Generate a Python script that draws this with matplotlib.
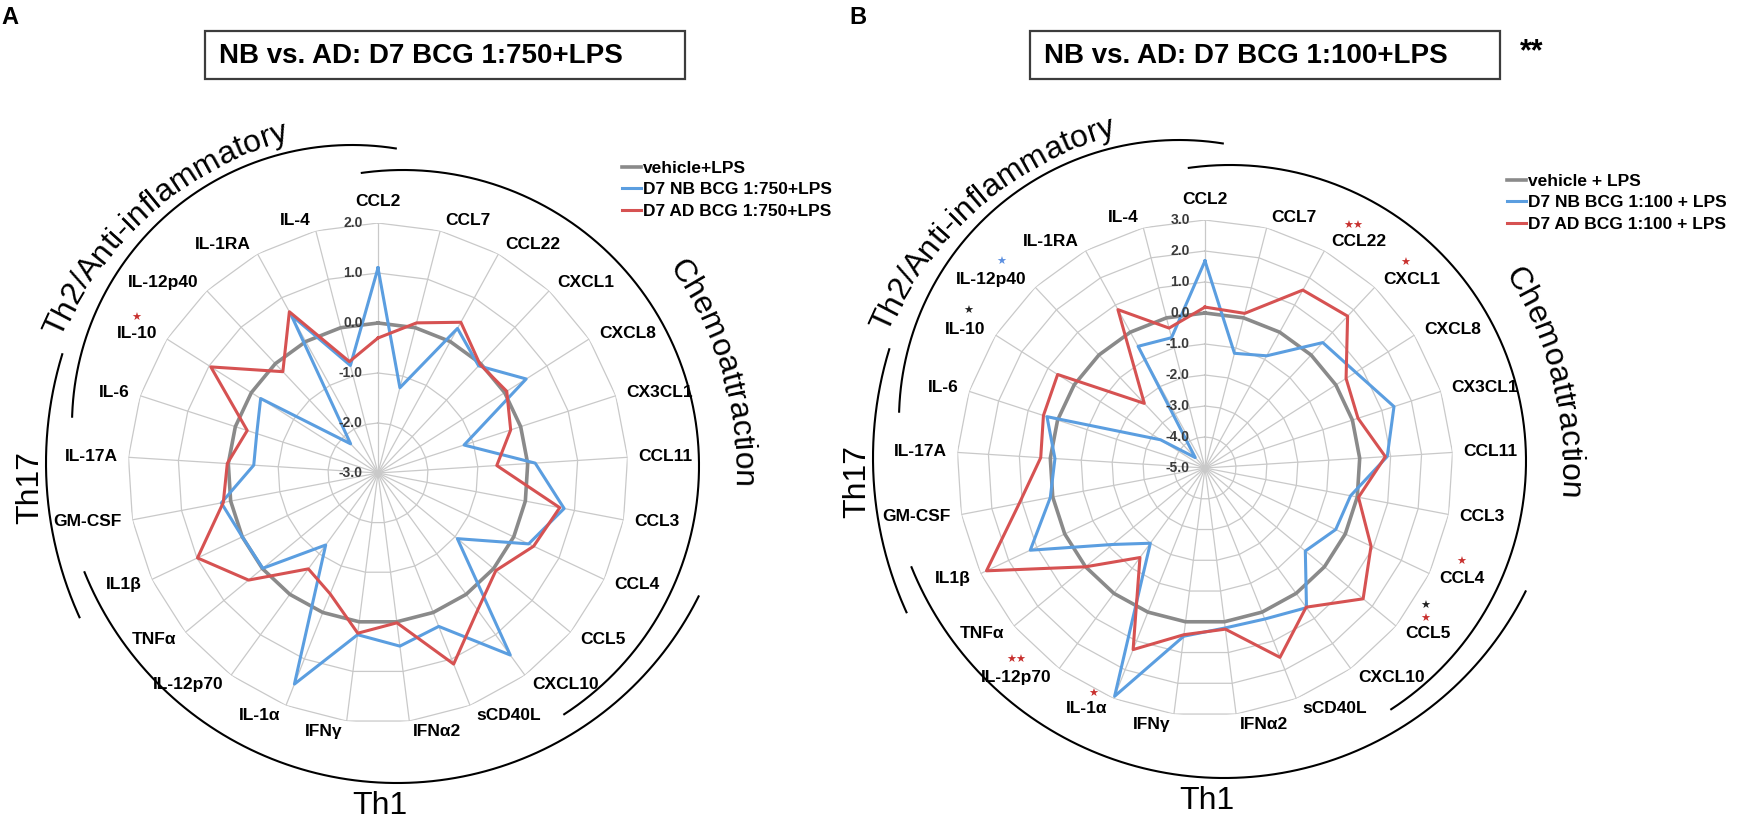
import numpy as np
import matplotlib
matplotlib.use("Agg")
import matplotlib.pyplot as plt
from matplotlib.font_manager import FontProperties
from matplotlib.patches import Rectangle

plt.rcParams['font.family'] = ['Liberation Sans', 'DejaVu Sans']

# ---- data -------------------------------------------------------------
cats = ['CCL2', 'CCL7', 'CCL22', 'CXCL1', 'CXCL8', 'CX3CL1', 'CCL11', 'CCL3',
        'CCL4', 'CCL5', 'CXCL10', 'sCD40L', 'IFNα2', 'IFNγ', 'IL-1α', 'IL-12p70',
        'TNFα', 'IL1β', 'GM-CSF', 'IL-17A', 'IL-6', 'IL-10', 'IL-12p40', 'IL-1RA', 'IL-4']

veh_a = [0.0] * 25
nb_a = [1.10, -1.24, 0.30, -0.06, 0.51, -1.19, 0.15, 0.79, 0.33, -0.94, 1.50, 0.30, 0.49,
        0.26, 1.54, -1.22, -0.01, 0.00, 0.19, -0.51, -0.45, -0.22, -2.20, 0.60, -0.78]
ad_a = [-0.30, 0.10, 0.44, -0.02, 0.05, -0.21, -0.62, 0.70, 0.44, 0.06, 0.39, 1.11, 0.02,
        0.23, -0.40, -0.63, 0.36, 0.99, 0.15, 0.02, -0.25, 0.96, -0.22, 0.68, -0.70]

veh_b = [0.0] * 25
nb_b = [1.68, -1.18, -0.87, 0.55, 0.76, 1.41, 0.89, -0.22, -0.34, -0.80, 0.57, 0.24, 0.20,
        0.47, 2.92, -2.00, -1.13, 1.23, 0.08, -0.15, 0.36, -3.30, -4.54, -0.52, -0.66]
ad_b = [0.19, 0.15, 1.55, 1.72, 0.39, 0.19, 0.83, 0.04, 0.92, 1.62, 0.55, 1.57, 0.24,
        0.42, 1.30, -1.43, 0.00, 2.79, 1.10, 0.31, 0.48, 0.63, -2.14, 0.83, -0.34]

ticks_a = [-3, -2, -1, 0, 1, 2]
ticks_b = [-5, -4, -3, -2, -1, 0, 1, 2, 3]

labels_a = ['vehicle+LPS', 'D7 NB BCG 1:750+LPS', 'D7 AD BCG 1:750+LPS']
labels_b = ['vehicle + LPS', 'D7 NB BCG 1:100 + LPS', 'D7 AD BCG 1:100 + LPS']

# significance marks: (text, colour, x, y) in figure pixels
stars_a = [('★', 'red', 136, 318)]
stars_b = [('★', 'blue', 1001, 262), ('★', 'black', 968, 311),
           ('★★', 'red', 1016, 660), ('★', 'red', 1093, 694),
           ('★★', 'red', 1353, 226), ('★', 'red', 1405, 263),
           ('★', 'red', 1461, 562), ('★', 'black', 1425, 606), ('★', 'red', 1425, 619)]

# ---- styles -----------------------------------------------------------
W, H = 1738, 823
GRAY, BLUE, RED = '#8a8a8a', '#5b9ee0', '#d65252'
GRID = '#c9c9c9'
star_col = {'red': '#c8302e', 'blue': '#5b8fe0', 'black': '#222222'}
PT = 0.72  # points per pixel at 100 dpi

fig = plt.figure(figsize=(W / 100, H / 100), dpi=100)
ov = fig.add_axes([0, 0, 1, 1])
ov.set_xlim(0, W)
ov.set_ylim(H, 0)
ov.axis('off')

theta = np.arange(25) * 2 * np.pi / 25


def radar(cx, cy, R, ticks, series, legend_labels, leg_xy):
    ax = fig.add_axes([(cx - R) / W, (H - cy - R) / H, 2 * R / W, 2 * R / H],
                      projection='polar')
    ax.set_theta_zero_location('N')
    ax.set_theta_direction(-1)
    rmin, rmax = ticks[0], ticks[-1]
    ax.set_ylim(rmin, rmax)
    ax.grid(False)
    ax.spines['polar'].set_visible(False)
    ax.set_xticks([])
    ax.set_yticks([])
    ax.patch.set_alpha(0)

    closed = np.append(theta, theta[0])
    for v in ticks[1:]:
        ax.plot(closed, [v] * 26, color=GRID, lw=0.9, zorder=1)
    for t in theta:
        ax.plot([t, t], [rmin, rmax], color=GRID, lw=0.9, zorder=1)

    for v in ticks:
        ax.annotate(f'{v:.1f}', xy=(0, v), xytext=(-11, 0), textcoords='offset points',
                    ha='right', va='center', fontsize=10, fontweight='bold',
                    color='#3a3a3a', annotation_clip=False, zorder=6)

    # category labels, placed the way the spreadsheet radar does it
    for t, name in zip(theta, cats):
        s, c = np.sin(t), np.cos(t)
        if abs(s) < 0.05:
            ha, dx, dy = 'center', 0.0, 21.0 * np.sign(c)
        else:
            ha = 'left' if s > 0 else 'right'
            dx = np.sign(s) * (3 + 8 * abs(s))
            dy = 11 * c
        ax.annotate(name, xy=(t, rmax), xytext=(dx * PT, dy * PT),
                    textcoords='offset points', ha=ha, va='center', fontsize=12.5,
                    fontweight='bold', annotation_clip=False)

    handles = []
    for vals, col, lw, z in zip(series, [GRAY, BLUE, RED], [2.6, 2.2, 2.2], [3, 4, 5]):
        ln, = ax.plot(closed, np.append(vals, vals[0]), color=col, lw=lw, zorder=z)
        handles.append(ln)

    ax.legend(handles, legend_labels, loc='upper left',
              bbox_to_anchor=(leg_xy[0] / W, 1 - leg_xy[1] / H),
              bbox_transform=fig.transFigure, frameon=False,
              prop={'weight': 'bold', 'size': 12.5}, handlelength=1.1,
              handletextpad=0.1, labelspacing=0.35, borderaxespad=0, borderpad=0)
    return ax


def arc_text(txt, cx, cy, r, mid_deg, fs):
    fp = FontProperties(family=['Liberation Sans', 'DejaVu Sans'], size=fs)
    rend = fig.canvas.get_renderer()

    def wid(s):
        return rend.get_text_width_height_descent(s, fp, ismath=False)[0] if s else 0.0

    total = wid(txt)
    a0 = np.radians(mid_deg) + (total / 2) / r
    for i, ch in enumerate(txt):
        sm = (wid(txt[:i]) + wid(txt[:i + 1])) / 2
        a = a0 - sm / r
        ov.text(cx + r * np.cos(a), cy - r * np.sin(a), ch, fontproperties=fp,
                rotation=np.degrees(a) - 90, rotation_mode='anchor',
                ha='center', va='baseline')


def arc_line(cx, cy, r, a1, a2):
    a = np.radians(np.linspace(a1, a2, 200))
    ov.plot(cx + r * np.cos(a), cy - r * np.sin(a), color='black', lw=1.5)


def decorations(cx, cy, th2_mid, chem_mid):
    # group arcs (centre offsets relative to the radar centre)
    arc_line(cx - 26, cy - 48, 280, 81, 178.3)   # Th2
    arc_line(cx + 25, cy - 7, 296, -57, 98)      # Chemoattraction
    arc_line(cx + 19, cy - 27, 337, 202, 333.5)  # Th1
    arc_line(cx + 40, cy - 10, 372, 163, 204.5)  # Th17
    arc_text('Th2/Anti-inflammatory', cx, cy, 345, th2_mid, 23)
    arc_text('Chemoattraction', cx, cy, 356, chem_mid, 23)
    ov.text(cx - 348, cy + 14, 'Th17', fontsize=23, rotation=90, ha='center', va='center')
    ov.text(cx + 2, cy + 333, 'Th1', fontsize=23, ha='center', va='center')


ax_a = radar(378, 473, 250, ticks_a, [veh_a, nb_a, ad_a], labels_a, (622, 161))
ax_b = radar(1205, 468, 248, ticks_b, [veh_b, nb_b, ad_b], labels_b, (1507, 174))

decorations(378, 473, 131, 16.5)
decorations(1205, 468, 131, 14)

# titles
for x0, w, txt in [(205, 480, 'NB vs. AD: D7 BCG 1:750+LPS'),
                   (1030, 470, 'NB vs. AD: D7 BCG 1:100+LPS')]:
    ov.add_patch(Rectangle((x0, 31), w, 48, fill=False, edgecolor='#3c3c3c', lw=1.6))
    ov.text(x0 + 14, 56, txt, fontsize=20, fontweight='bold', ha='left', va='center')
ov.text(1532, 52, '**', fontsize=22, fontweight='bold', ha='center', va='center')

ov.text(10, 17, 'A', fontsize=17, fontweight='bold', ha='center', va='center')
ov.text(858, 17, 'B', fontsize=17, fontweight='bold', ha='center', va='center')

for txt, col, x, y in stars_a + stars_b:
    ov.text(x, y, txt, fontsize=8, color=star_col[col], ha='center', va='center',
            family=['DejaVu Sans'])

fig.savefig('out.png', dpi=100)
